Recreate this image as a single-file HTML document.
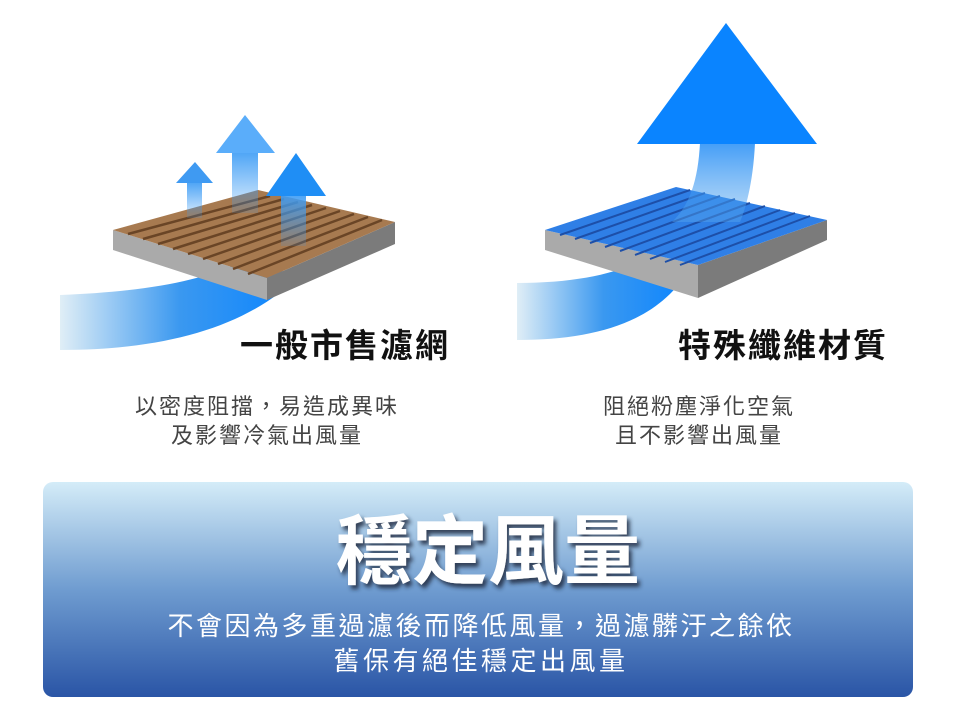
<!DOCTYPE html>
<html><head><meta charset="utf-8"><style>
html,body{margin:0;padding:0;background:#fff;}
svg{display:block;}
text{font-family:"Liberation Sans","Noto Sans CJK TC",sans-serif;}
</style></head><body>
<svg width="960" height="720" viewBox="0 0 960 720" xmlns="http://www.w3.org/2000/svg">
<defs>
<linearGradient id="flowL" x1="0" x2="1" y1="0" y2="0">
<stop offset="0" stop-color="#e0eef6"/><stop offset="0.5" stop-color="#3a98f0"/><stop offset="1" stop-color="#0a84ff"/>
</linearGradient>
<linearGradient id="stemL" x1="0" x2="0" y1="0" y2="1">
<stop offset="0" stop-color="#3d9cf5" stop-opacity="0.9"/><stop offset="1" stop-color="#3d9cf5" stop-opacity="0.15"/>
</linearGradient>
<linearGradient id="bigStem" x1="0" x2="0" y1="0" y2="1">
<stop offset="0" stop-color="#1585f5"/><stop offset="1" stop-color="#5aa8ee" stop-opacity="0.5"/>
</linearGradient>
<linearGradient id="box" x1="0" x2="0" y1="0" y2="1">
<stop offset="0" stop-color="#d4ecf8"/><stop offset="0.5" stop-color="#6f9cd0"/><stop offset="1" stop-color="#2a55a6"/>
</linearGradient>
<filter id="sh" x="-10%" y="-10%" width="130%" height="130%">
<feDropShadow dx="3" dy="4" stdDeviation="2" flood-color="#1a2a40" flood-opacity="0.85"/>
</filter>
</defs>

<path d="M60 295 C140 292 200 282 240 262 L300 275 C250 325 170 350 60 350 Z" fill="url(#flowL)"/>
<polygon points="113,230 113,250 267,300 267,278" fill="#aaaaaa"/>
<polygon points="267,278 267,300 395,244 395,222" fill="#7b7b7b"/>
<polygon points="113,230 258,190 395,222 267,278" fill="#a77a50"/>
<g stroke="#6a4526" stroke-width="2.5">
<line x1="128" y1="234" x2="270" y2="196"/>
<line x1="143" y1="239" x2="284" y2="199"/>
<line x1="158" y1="244" x2="298" y2="202"/>
<line x1="173" y1="249" x2="312" y2="205"/>
<line x1="188" y1="254" x2="326" y2="208"/>
<line x1="203" y1="259" x2="340" y2="211"/>
<line x1="218" y1="264" x2="354" y2="214"/>
<line x1="233" y1="269" x2="368" y2="217"/>
<line x1="248" y1="274" x2="382" y2="220"/>
</g>
<rect x="187" y="183" width="15" height="35" fill="url(#stemL)"/>
<polygon points="195,162 176,183 213,183" fill="#3f9af2"/>
<rect x="232" y="153" width="26" height="60" fill="url(#stemL)"/>
<polygon points="245,115 216,153 275,153" fill="#5aadfa"/>
<rect x="281" y="196" width="25" height="50" fill="url(#stemL)"/>
<polygon points="296,153 266,196 326,196" fill="#1f8ef5"/>

<path d="M517 283 C580 283 625 272 650 255 L690 268 C660 320 600 340 517 340 Z" fill="url(#flowL)"/>
<polygon points="545,230 545,250 698,298 698,265" fill="#aaaaaa"/>
<polygon points="698,265 698,298 827,240 827,220" fill="#7b7b7b"/>
<polygon points="545,230 676,187 827,220 698,265" fill="#2f7fe6"/>
<g stroke="#1d4fa8" stroke-width="2">
<line x1="560" y1="235" x2="690" y2="190"/>
<line x1="575" y1="239" x2="705" y2="193"/>
<line x1="590" y1="243" x2="720" y2="196"/>
<line x1="605" y1="247" x2="735" y2="199"/>
<line x1="620" y1="251" x2="750" y2="203"/>
<line x1="635" y1="255" x2="765" y2="206"/>
<line x1="650" y1="259" x2="780" y2="210"/>
<line x1="665" y1="262" x2="795" y2="213"/>
<line x1="680" y1="265" x2="810" y2="216"/>
</g>
<path d="M700 143 L755 143 C753 185 745 210 740 222 L672 222 C690 205 698 180 700 143 Z" fill="url(#bigStem)" opacity="0.8"/>
<polygon points="726,23 637,144 817,144" fill="#0a84ff"/>

<text x="345" y="357" font-size="33" text-anchor="middle" fill="#111" letter-spacing="2" font-weight="bold">一般市售濾網</text>
<text x="783" y="357" font-size="33" text-anchor="middle" fill="#111" letter-spacing="2" font-weight="bold">特殊纖維材質</text>
<text x="267" y="414" font-size="22" text-anchor="middle" fill="#444" letter-spacing="2">以密度阻擋，易造成異味</text>
<text x="267" y="443" font-size="22" text-anchor="middle" fill="#444" letter-spacing="2">及影響冷氣出風量</text>
<text x="699" y="414" font-size="22" text-anchor="middle" fill="#444" letter-spacing="2">阻絕粉塵淨化空氣</text>
<text x="699" y="443" font-size="22" text-anchor="middle" fill="#444" letter-spacing="2">且不影響出風量</text>

<rect x="43" y="482" width="870" height="215" rx="10" fill="url(#box)"/>
<text x="488" y="578" font-size="76" font-weight="bold" text-anchor="middle" fill="#fff" filter="url(#sh)">穩定風量</text>
<text x="481" y="635" font-size="26" text-anchor="middle" fill="#fff" letter-spacing="2.5">不會因為多重過濾後而降低風量，過濾髒汙之餘依</text>
<text x="481" y="670" font-size="26" text-anchor="middle" fill="#fff" letter-spacing="3.5">舊保有絕佳穩定出風量</text>
</svg>
</body></html>
